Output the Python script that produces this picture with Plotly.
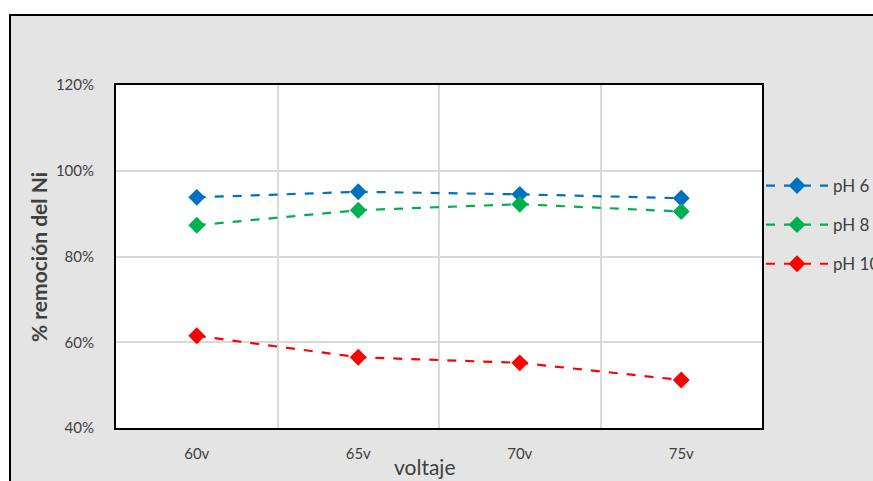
import plotly.graph_objects as go

voltajes = ["60v", "65v", "70v", "75v"]
ph6 = [0.938, 0.951, 0.945, 0.936]
ph8 = [0.873, 0.908, 0.922, 0.905]
ph10 = [0.615, 0.565, 0.552, 0.512]
series_names = ["pH 6", "pH 8", "pH 10"]
colors = ["#0070C0", "#00B050", "#FF0000"]
y_ticks = [0.4, 0.6, 0.8, 1.0, 1.2]
y_ticktext = ["40%", "60%", "80%", "100%", "120%"]

FONT = "Lato, 'Open Sans', sans-serif"
W, H = 873, 481
L, R, T, B = 116, 111, 85, 53
pw, ph = W - L - R, H - T - B

fig = go.Figure()
for i, (name, vals) in enumerate(zip(series_names, [ph6, ph8, ph10])):
    fig.add_trace(go.Scatter(
        x=voltajes, y=vals, name=name, mode="lines+markers",
        legendgroup=name,
        line=dict(color=colors[i], width=2.2, dash="dash"),
        marker=dict(symbol="diamond", size=13, color=colors[i]),
    ))

def px_x(p):
    return (p - L) / pw

def px_y(p):
    return (H - B - p) / ph

# gray chart area with outer border
fig.add_shape(type="rect", xref="paper", yref="paper", layer="below",
              x0=px_x(10), x1=px_x(W + 10), y0=px_y(H + 10), y1=px_y(15),
              fillcolor="#E4E4E4", line=dict(color="black", width=2))
# white plot area
fig.add_shape(type="rect", xref="paper", yref="paper", layer="below",
              x0=0, x1=1, y0=0, y1=1, fillcolor="white", line=dict(width=0))

fig.update_layout(
    width=W, height=H,
    margin=dict(l=L, r=R, t=T, b=B, autoexpand=False),
    paper_bgcolor="white", plot_bgcolor="white",
    font=dict(family=FONT, color="#404040", size=15),
    showlegend=True,
    legend=dict(x=px_x(761), y=px_y(168), xanchor="left", yanchor="top",
                bgcolor="rgba(0,0,0,0)", font=dict(size=17, color="#404040"),
                tracegroupgap=14, itemwidth=62),
    xaxis=dict(type="category", tickson="boundaries", range=[-0.5, 3.5],
               showgrid=True, gridcolor="#D9D9D9", gridwidth=2, automargin=False,
               showline=True, linecolor="black", linewidth=2, mirror=True,
               ticks="", ticklabelstandoff=11, tickfont=dict(size=15, color="#404040")),
    yaxis=dict(range=[0.4, 1.2], tickvals=y_ticks, ticktext=y_ticktext,
               showgrid=True, gridcolor="#D9D9D9", gridwidth=2, automargin=False,
               showline=True, linecolor="black", linewidth=2, mirror=True,
               ticks="", ticklabelstandoff=17, tickfont=dict(size=15, color="#404040"),
               zeroline=False),
    annotations=[
        dict(text="voltaje", xref="paper", yref="paper", x=px_x(425), y=px_y(466),
             xanchor="center", yanchor="middle",
             showarrow=False, font=dict(size=21, color="#404040")),
        dict(text="<b>% remoción del Ni</b>", xref="paper", yref="paper",
             x=px_x(38), y=px_y(257), textangle=-90, showarrow=False,
             xanchor="center", yanchor="middle",
             font=dict(size=21, color="#404040")),
    ],
)

fig.write_html("out.html")
